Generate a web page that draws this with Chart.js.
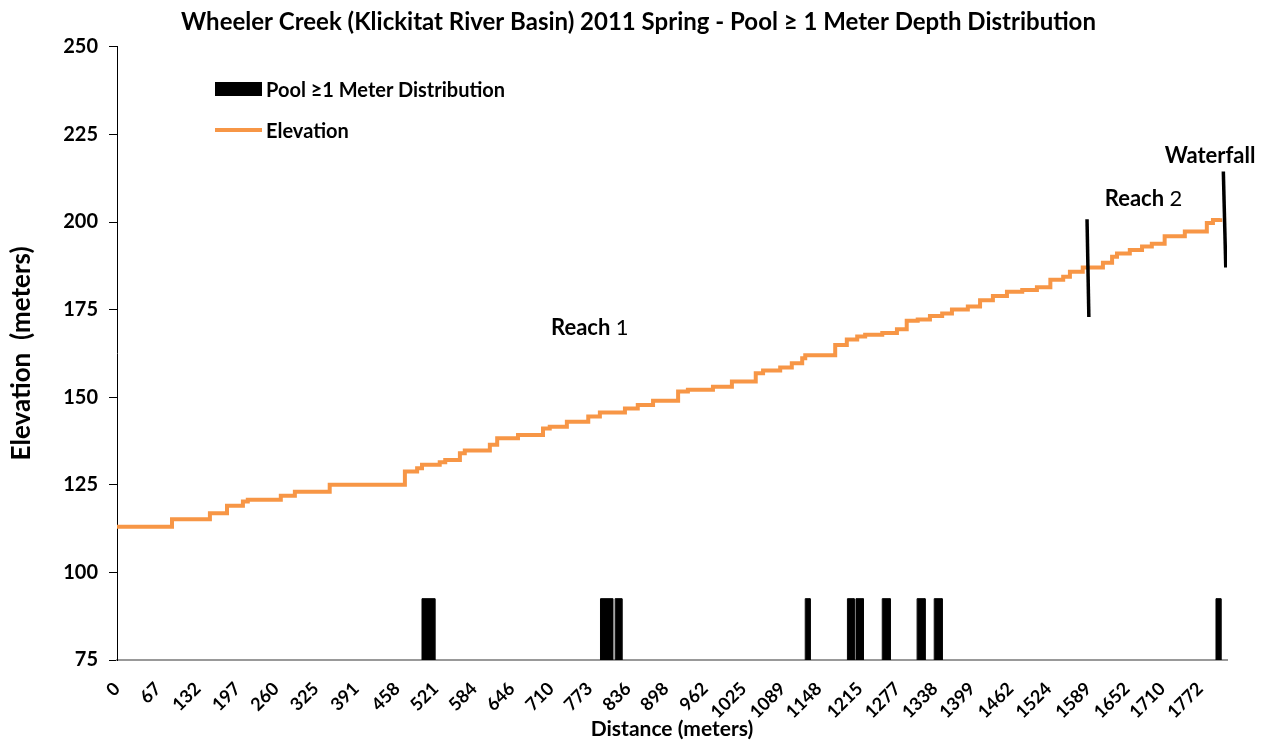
<!DOCTYPE html>
<html>
<head>
<meta charset="utf-8">
<title>Wheeler Creek Pool Depth</title>
<script src="https://cdn.jsdelivr.net/npm/chart.js@4/dist/chart.umd.min.js"></script>
<style>
body { margin: 0; background: #fff; }
#wrap { position: relative; width: 1269px; height: 742px; }
.legText { position: absolute; font: bold 20px Lato, sans-serif; color: #000; line-height: 22px; white-space: nowrap; }
.legBox { position: absolute; }
</style>
</head>
<body>
<div id="wrap">
  <canvas id="elevChart" width="1269" height="742"></canvas>
  <div class="legBox" style="left:215px;top:82px;width:47px;height:14px;background:#000"></div>
  <div class="legText" style="left:266px;top:78px">Pool ≥1 Meter Distribution</div>
  <div class="legBox" style="left:215px;top:128px;width:47px;height:4px;background:#F79646"></div>
  <div class="legText" style="left:266px;top:119px">Elevation</div>
</div>
<script>
// tick labels on the distance axis (meters)
var distTicks = [0, 67, 132, 197, 260, 325, 391, 458, 521, 584, 646, 710, 773, 836, 898, 962,
  1025, 1089, 1148, 1215, 1277, 1338, 1399, 1462, 1524, 1589, 1652, 1710, 1772];

// elevation profile: distance where each level starts, and the level
var elevDist = [0, 90, 152, 180, 206, 214, 268, 291, 348, 471, 491, 499, 528, 537, 561, 569,
  610, 622, 656, 697, 708, 736, 771, 790, 831, 852, 877, 918, 934, 975, 1006, 1045, 1057,
  1085, 1104, 1121, 1126, 1175, 1194, 1211, 1224, 1252, 1276, 1292, 1310, 1330, 1350, 1366,
  1392, 1412, 1433, 1456, 1481, 1505, 1527, 1548, 1559, 1580, 1613, 1628, 1636, 1657, 1677,
  1693, 1714, 1747, 1783, 1793, 1805];
var elevValue = [113.0, 115.2, 116.9, 119.0, 120.2, 120.7, 121.9, 123.0, 125.0, 128.8, 129.7,
  130.7, 131.4, 132.1, 134.0, 134.8, 136.4, 138.3, 139.2, 141.1, 141.6, 143.0, 144.5, 145.6,
  146.8, 147.8, 149.0, 151.6, 152.1, 153.0, 154.5, 156.8, 157.6, 158.5, 159.7, 161.1, 162.0,
  164.9, 166.5, 167.3, 167.8, 168.3, 169.4, 171.8, 172.2, 173.2, 173.9, 175.0, 175.9, 177.7,
  178.9, 180.1, 180.6, 181.4, 183.5, 184.4, 185.8, 187.0, 188.4, 190.1, 191.0, 192.0, 193.0,
  193.8, 195.9, 197.3, 199.7, 200.6, 201.1];

// pools >= 1 m deep
var poolStart = [499, 791, 815, 1126, 1195, 1209, 1252, 1309, 1337, 1798];
var poolEnd   = [520, 811, 826, 1134, 1206, 1221, 1265, 1322, 1350, 1806];
var poolTop = 92.5;

// reach break and waterfall markers
var reachBreakDist = [1587, 1590];
var reachBreakElev = [200.8, 172.9];
var waterfallDist = [1810, 1814];
var waterfallElev = [214.4, 187.0];

// text notes
var noteBold = ["Reach ", "Reach ", "Waterfall"];
var noteNum = ["1", "2", ""];
var noteDist = [710, 1616, 1714];
var noteElev = [169.8, 206.7, 219.0];

Chart.defaults.font.family = "Lato, sans-serif";
Chart.defaults.color = "#000";

var datasets = [];
for (var i = 0; i < poolStart.length; i++) {
  datasets.push({
    label: "Pool",
    data: [{x: poolStart[i], y: 75}, {x: poolStart[i], y: poolTop}, {x: poolEnd[i], y: poolTop}, {x: poolEnd[i], y: 75}],
    borderColor: "#000",
    backgroundColor: "#000",
    borderWidth: 1,
    fill: "start",
    pointRadius: 0,
    order: 3
  });
}
datasets.push({
  label: "Elevation",
  data: elevDist.map(function (d, i) { return {x: d, y: elevValue[i]}; }),
  borderColor: "#F79646",
  borderWidth: 4,
  stepped: true,
  pointRadius: 0,
  fill: false,
  order: 2
});
datasets.push({
  label: "Reach break",
  data: reachBreakDist.map(function (d, i) { return {x: d, y: reachBreakElev[i]}; }),
  borderColor: "#000",
  borderWidth: 3.5,
  pointRadius: 0,
  order: 1
});
datasets.push({
  label: "Waterfall",
  data: waterfallDist.map(function (d, i) { return {x: d, y: waterfallElev[i]}; }),
  borderColor: "#000",
  borderWidth: 3.5,
  pointRadius: 0,
  order: 1
});

var notesPlugin = {
  id: "notes",
  afterDatasetsDraw: function (chart) {
    var ctx = chart.ctx;
    var xs = chart.scales.x, ys = chart.scales.y;
    ctx.save();
    ctx.fillStyle = "#000";
    ctx.textBaseline = "middle";
    ctx.textAlign = "left";
    for (var i = 0; i < noteBold.length; i++) {
      var px = xs.getPixelForValue(noteDist[i]);
      var py = ys.getPixelForValue(noteElev[i]);
      ctx.font = "bold 22px Lato, sans-serif";
      ctx.fillText(noteBold[i], px, py);
      var w = ctx.measureText(noteBold[i]).width;
      ctx.font = "22px Lato, sans-serif";
      ctx.fillText(noteNum[i], px + w, py);
    }
    ctx.restore();
  }
};

var ctx = document.getElementById("elevChart").getContext("2d");
var elevChart = new Chart(ctx, {
  type: "line",
  data: { datasets: datasets },
  options: {
    responsive: false,
    animation: false,
    layout: { padding: { left: 50, right: 42, top: 0, bottom: 0 } },
    plugins: {
      legend: { display: false },
      tooltip: { enabled: false },
      title: {
        display: true,
        text: "Wheeler Creek (Klickitat River Basin) 2011 Spring - Pool \u2265 1 Meter Depth Distribution",
        font: { size: 24, weight: "bold" },
        color: "#000",
        padding: { top: 8, bottom: 10 }
      }
    },
    scales: {
      x: {
        type: "linear",
        min: 0,
        max: 1816,
        afterBuildTicks: function (scale) {
          scale.ticks = distTicks.map(function (v) { return {value: v}; });
        },
        afterFit: function (scale) { scale.height = 82; },
        ticks: {
          autoSkip: false,
          minRotation: 45,
          maxRotation: 45,
          padding: 18,
          font: { size: 18, weight: "bold" },
          color: "#000",
          callback: function (v) { return String(v); }
        },
        grid: { drawOnChartArea: false, drawTicks: false },
        border: { color: "#999", width: 2 },
        title: {
          display: true,
          text: "Distance (meters)",
          font: { size: 21, weight: "bold" },
          color: "#000",
          padding: { top: 0, bottom: 0 }
        }
      },
      y: {
        min: 75,
        max: 250,
        afterFit: function (scale) { scale.width = 67; },
        ticks: {
          stepSize: 25,
          padding: 11,
          font: { size: 20, weight: "bold" },
          color: "#000"
        },
        grid: { drawOnChartArea: false, drawTicks: true, tickLength: 8, color: "#000" },
        border: { color: "#000", width: 1 },
        title: {
          display: true,
          text: "Elevation  (meters)",
          font: { size: 26, weight: "bold" },
          color: "#000",
          padding: { top: -44, bottom: 0 }
        }
      }
    }
  },
  plugins: [notesPlugin]
});
</script>
</body>
</html>
